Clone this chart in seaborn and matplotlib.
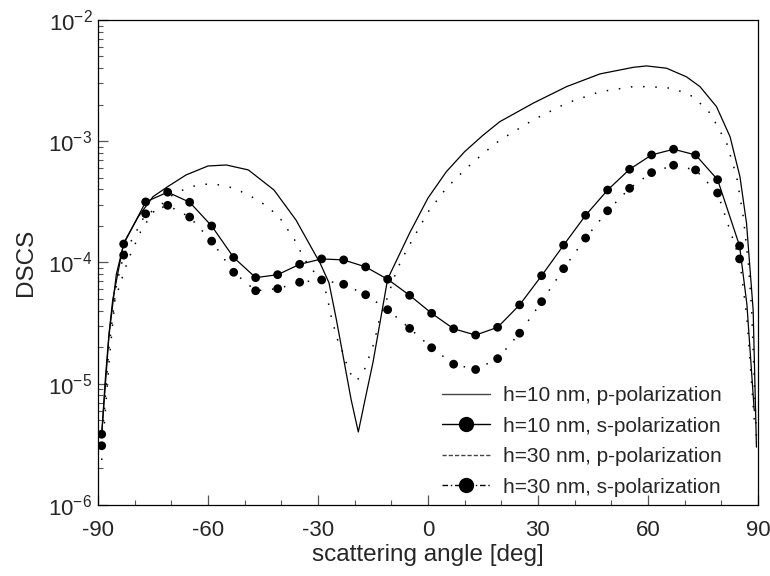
import numpy as np
import pandas as pd
import matplotlib
matplotlib.use("Agg")
import matplotlib.pyplot as plt
import seaborn as sns
from matplotlib.lines import Line2D
from matplotlib.ticker import LogLocator, MultipleLocator, NullFormatter

# ---------------- data ----------------
angle_s = [-89, -83, -77, -71, -65, -59, -53, -47, -41, -35, -29, -23, -17, -11, -5,
           1, 7, 13, 19, 25, 31, 37, 43, 49, 55, 61, 67, 73, 79, 85]
s10 = [3.83e-6, 1.42e-4, 3.16e-4, 3.80e-4, 3.14e-4, 2.00e-4, 1.10e-4, 7.5e-5, 7.93e-5,
       9.66e-5, 1.07e-4, 1.05e-4, 9.19e-5, 7.27e-5, 5.36e-5, 3.81e-5, 2.84e-5, 2.52e-5,
       2.92e-5, 4.47e-5, 7.78e-5, 1.39e-4, 2.45e-4, 3.96e-4, 5.87e-4, 7.71e-4, 8.59e-4,
       7.71e-4, 4.82e-4, 1.37e-4]
s30 = [3.08e-6, 1.15e-4, 2.52e-4, 2.96e-4, 2.37e-4, 1.50e-4, 8.3e-5, 5.85e-5, 6.08e-5,
       6.87e-5, 7.18e-5, 6.61e-5, 5.42e-5, 4.08e-5, 2.86e-5, 1.98e-5, 1.45e-5, 1.31e-5,
       1.61e-5, 2.61e-5, 4.75e-5, 8.89e-5, 1.59e-4, 2.67e-4, 4.09e-4, 5.51e-4, 6.34e-4,
       5.80e-4, 3.74e-4, 1.07e-4]
# extra points of the s-curves outside the marked angles
angle_s_ends = [-87, -85, 87, 89]
s10_ends = [2.5e-5, 8.0e-5, 4.5e-5, 6.0e-6]
s30_ends = [2.0e-5, 6.5e-5, 3.5e-5, 5.0e-6]

angle_p10 = [-89, -88, -87, -86, -83, -79, -75, -71, -66, -60, -55, -49, -42, -36, -31,
             -29.5, -27, -25, -23, -21, -19, -17, -15, -13, -11, -7.2,
             -5, 0, 5, 10, 15, 19.6, 28.7, 37.8, 46.9, 56, 59.6, 65.1, 70.5, 74.2, 78.7,
             82.4, 85.1, 86.9, 87.8, 88.7, 89.6]
p10 = [3.8e-6, 1.1e-5, 2.6e-5, 4.9e-5, 1.45e-4, 2.39e-4, 3.49e-4, 4.22e-4, 5.27e-4,
       6.25e-4, 6.37e-4, 5.8e-4, 3.96e-4, 2.24e-4, 1.2e-4, 1.0e-4, 6.8e-5, 3.4e-5,
       1.6e-5, 7.5e-6, 4.0e-6, 7.8e-6, 1.5e-5, 3.3e-5, 7.3e-5, 1.27e-4,
       1.75e-4, 3.4e-4, 5.6e-4, 8.2e-4, 1.12e-3, 1.45e-3, 2.06e-3, 2.82e-3, 3.59e-3,
       4.07e-3, 4.18e-3, 4.0e-3, 3.40e-3, 2.82e-3, 1.93e-3, 1.09e-3, 5.1e-4, 2.1e-4,
       9.2e-5, 4.06e-5, 3.0e-6]

angle_p30 = [-89, -87, -85.4, -81.8, -78.2, -74.5, -69.1, -64.6, -61.4, -58.2, -52.7,
             -47.3, -43.6, -40, -36.4, -33.6, -30, -27.7, -26.3, -24.5, -23.3, -21.5,
             -19.6, -18.1, -16.7, -15.8, -14.7, -13.3, -11.3, -8.5, -5.8, 0, 5, 10, 15,
             19.6, 28.7, 37.8, 46.9, 56, 60.5, 66.9, 72.4, 77, 81.5, 84.2, 86, 87.4,
             88.3, 89.6]
p30 = [2.35e-6, 1.5e-5, 4.9e-5, 1.05e-4, 1.85e-4, 2.71e-4, 3.72e-4, 4.22e-4, 4.41e-4,
       4.44e-4, 4.09e-4, 3.38e-4, 2.88e-4, 2.24e-4, 1.54e-4, 1.05e-4, 7.6e-5, 5.57e-5,
       3.47e-5, 2.22e-5, 1.84e-5, 1.26e-5, 1.05e-5, 1.18e-5, 1.43e-5, 1.78e-5, 2.16e-5,
       3.36e-5, 4.9e-5, 8.7e-5, 1.27e-4, 2.6e-4, 4.1e-4, 5.8e-4, 7.9e-4, 1.02e-3,
       1.50e-3, 2.06e-3, 2.56e-3, 2.82e-3, 2.82e-3, 2.73e-3, 2.33e-3, 1.70e-3, 9.6e-4,
       5.1e-4, 2.39e-4, 9.8e-5, 4.06e-5, 3.5e-6]

legend_labels = ["h=10 nm, p-polarization", "h=10 nm, s-polarization",
                 "h=30 nm, p-polarization", "h=30 nm, s-polarization"]
x_ticks = [-90, -60, -30, 0, 30, 60, 90]

# ---------------- style ----------------
sns.set_theme(style="ticks")
plt.rcParams['font.family'] = ['Liberation Sans', 'DejaVu Sans']
plt.rcParams['axes.unicode_minus'] = False
plt.rcParams['mathtext.fontset'] = 'custom'
plt.rcParams['mathtext.rm'] = 'Liberation Sans'
plt.rcParams['mathtext.it'] = 'Liberation Sans:italic'
plt.rcParams['mathtext.bf'] = 'Liberation Sans:bold'

fig = plt.figure(figsize=(7.7, 5.76), dpi=100)
ax = fig.add_axes([0.1273, 0.1233, 0.857, 0.842])

dots = (0, (1.0, 7.0))
lw = 0.9

def sline(angles, vals, ends_a, ends_v):
    df = pd.DataFrame({"angle": list(angles) + list(ends_a),
                       "dscs": list(vals) + list(ends_v)}).sort_values("angle")
    return df

# p-polarization curves
sns.lineplot(x=angle_p10, y=p10, ax=ax, color="black", lw=lw, sort=False, estimator=None)
sns.lineplot(x=angle_p30, y=p30, ax=ax, color="black", lw=1.1, linestyle=dots,
             sort=False, estimator=None)

# s-polarization curves
d10 = sline(angle_s, s10, angle_s_ends, s10_ends)
d30 = sline(angle_s, s30, angle_s_ends, s30_ends)
sns.lineplot(data=d10, x="angle", y="dscs", ax=ax, color="black", lw=lw, sort=False,
             estimator=None)
sns.lineplot(data=d30, x="angle", y="dscs", ax=ax, color="black", lw=1.1, linestyle=dots,
             sort=False, estimator=None)
sns.scatterplot(x=angle_s, y=s10, ax=ax, color="black", s=40, edgecolor="none", zorder=3)
sns.scatterplot(x=angle_s, y=s30, ax=ax, color="black", s=40, edgecolor="none", zorder=3)

ax.set_yscale("log")
ax.set_xlim(-90, 90)
ax.set_ylim(1e-6, 1e-2)
ax.set_xticks(x_ticks)
ax.set_xticklabels([str(t) for t in x_ticks])
ax.xaxis.set_minor_locator(MultipleLocator(10))
ax.yaxis.set_major_locator(LogLocator(base=10, numticks=10))
ax.yaxis.set_minor_locator(LogLocator(base=10, subs=np.arange(2, 10), numticks=50))
ax.yaxis.set_minor_formatter(NullFormatter())
ax.tick_params(which="both", direction="in", top=False, right=False,
               labelsize=16, color="#555555")
ax.tick_params(which="major", length=7, width=0.9)
ax.tick_params(axis="x", which="major", pad=11)
ax.tick_params(axis="y", which="major", pad=4)
ax.tick_params(which="minor", length=3.5, width=0.8)
for sp in ax.spines.values():
    sp.set_linewidth(0.9)
    sp.set_color("black")

ax.set_xlabel("scattering angle [deg]", fontsize=17.5, labelpad=2)
ax.set_ylabel("DSCS", fontsize=17.5, labelpad=8)

handles = [
    Line2D([], [], color="#444444", lw=1.0, linestyle="-"),
    Line2D([], [], color="black", lw=1.0, linestyle="-", marker="o", markersize=11,
           markeredgewidth=0),
    Line2D([], [], color="#444444", lw=1.0, linestyle=(0, (3, 1.5))),
    Line2D([], [], color="black", lw=1.0, linestyle=(0, (4, 2, 1, 2)), marker="o",
           markersize=11, markeredgewidth=0),
]
ax.legend(handles, legend_labels, loc="lower left", bbox_to_anchor=(0.509, 0.0),
          frameon=False, fontsize=15, handlelength=2.3, handletextpad=0.6,
          labelspacing=0.55, borderpad=0.2, borderaxespad=0.2)

fig.savefig("out.png", dpi=100)
